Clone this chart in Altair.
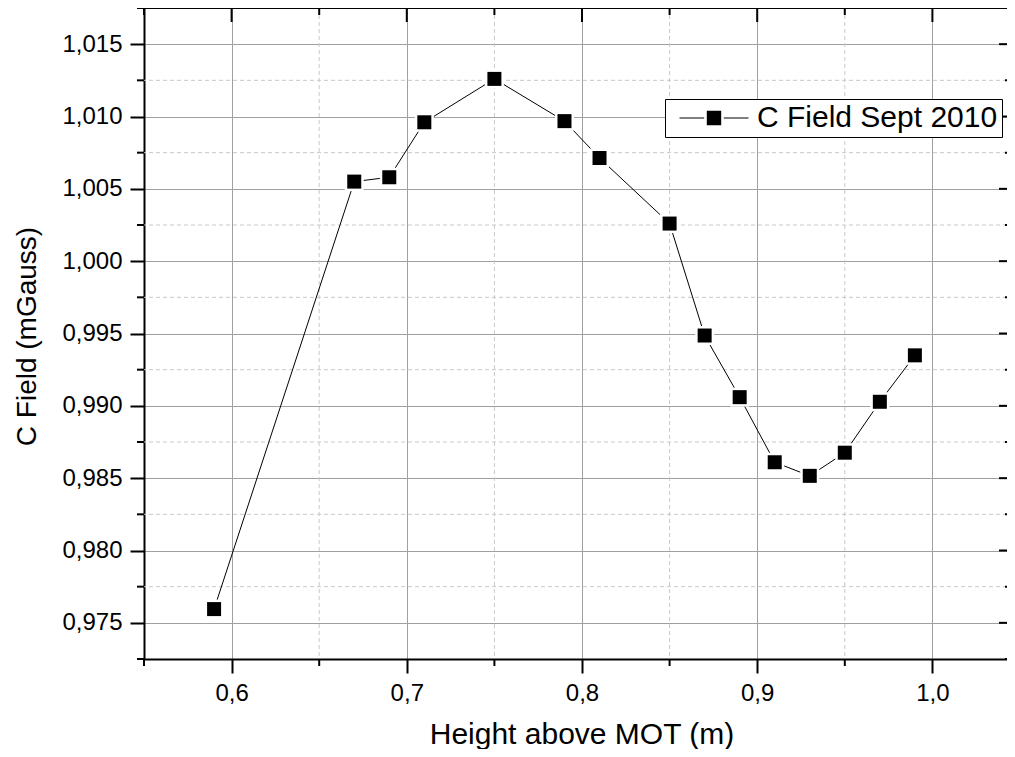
import altair as alt
import pandas as pd

# ---- data ----
heights = [0.59, 0.67, 0.69, 0.71, 0.75, 0.79, 0.81, 0.85, 0.87, 0.89, 0.91, 0.93, 0.95, 0.97, 0.99]
c_field = [0.97595, 1.0055, 1.0058, 1.0096, 1.0126, 1.00968, 1.00713, 1.0026,
           0.99486, 0.9906, 0.9861, 0.98516, 0.98676, 0.99028, 0.99349]
series_name = "C Field Sept 2010"

x_major = [0.6, 0.7, 0.8, 0.9, 1.0]
x_minor = [0.55, 0.65, 0.75, 0.85, 0.95]
y_major = [0.975, 0.980, 0.985, 0.990, 0.995, 1.000, 1.005, 1.010, 1.015]
y_minor = [0.9725, 0.9775, 0.9825, 0.9875, 0.9925, 0.9975, 1.0025, 1.0075, 1.0125, 1.0175]
x_domain = [0.55, 1.04258]
y_domain = [0.9725, 1.0175]

W, H = 863, 651
FONT = "Liberation Sans"

df = pd.DataFrame({"h": heights, "f": c_field, "series": [series_name] * len(heights)})
xmaj = pd.DataFrame({"h": x_major})
xmin = pd.DataFrame({"h": x_minor})
ymaj = pd.DataFrame({"f": y_major})
ymin = pd.DataFrame({"f": y_minor})
xmin_inner = pd.DataFrame({"h": x_minor[1:]})
ymin_inner = pd.DataFrame({"f": y_minor[1:-1]})

xs = alt.Scale(domain=x_domain, nice=False, zero=False)
ys = alt.Scale(domain=y_domain, nice=False, zero=False)

x_axis = alt.Axis(
    values=x_major,
    labelExpr="replace(format(datum.value, '.1f'), '.', ',')",
    tickSize=14, tickWidth=2, tickColor="black",
    domainColor="black", domainWidth=2,
    grid=True, gridColor="#a0a0a0", gridWidth=1,
    labelFont=FONT, labelFontSize=24, labelColor="black", labelPadding=8,
    title="Height above MOT (m)", titleFont=FONT, titleFontSize=30, titleFontWeight="normal",
    titleColor="black", titleX=437.5, titleY=84, titleBaseline="alphabetic", titleAlign="center",
)
y_axis = alt.Axis(
    values=y_major,
    labelExpr="replace(format(datum.value, '.3f'), '.', ',')",
    tickSize=14, tickWidth=2, tickColor="black",
    domainColor="black", domainWidth=2,
    grid=True, gridColor="#a0a0a0", gridWidth=1,
    labelFont=FONT, labelFontSize=24, labelColor="black", labelPadding=8,
    title="C Field (mGauss)", titleFont=FONT, titleFontSize=28, titleFontWeight="normal",
    titleColor="black", titleX=-109, titleY=328, titleBaseline="alphabetic", titleAlign="center",
)

X = lambda: alt.X("h:Q", scale=xs, axis=x_axis)
Y = lambda: alt.Y("f:Q", scale=ys, axis=y_axis)

# minor dashed grid
grid_x_minor = alt.Chart(xmin_inner).mark_rule(color="#c8c8c8", strokeDash=[4, 3], strokeWidth=1).encode(x=X())
grid_y_minor = alt.Chart(ymin_inner).mark_rule(color="#c8c8c8", strokeDash=[4, 3], strokeWidth=1).encode(y=Y())

line = alt.Chart(df).mark_line(color="black", strokeWidth=1).encode(x=X(), y=Y())

halo = alt.Chart(df).mark_square(size=361, color="white", opacity=1, filled=True).encode(x=X(), y=Y())

# legend symbol: line - square - line (filled shapes), scale 10 px per unit (size=400)
LEG_PATH = ("M-3.45,-0.05H-0.98V0.05H-3.45Z "
            "M0.98,-0.05H3.45V0.05H0.98Z "
            "M-0.72,-0.72H0.72V0.72H-0.72Z")

squares = alt.Chart(df).mark_square(size=196, filled=True, opacity=1).encode(
    x=X(), y=Y(),
    color=alt.Color("series:N", scale=alt.Scale(range=["black"]), legend=alt.Legend(
        orient="none", legendX=521, legendY=91, title=None,
        fillColor="white", strokeColor="black", padding=4,
        labelFont=FONT, labelFontSize=30, labelColor="black", labelOffset=28, labelLimit=0,
        symbolType=LEG_PATH, symbolSize=400, symbolFillColor="black", symbolOffset=30,
        symbolStrokeWidth=0, symbolOpacity=1,
    )),
)

TK = dict(color="black", strokeWidth=2)
t_bottom_minor = alt.Chart(xmin).mark_rule(**TK).encode(x=X(), y=alt.value(H), y2=alt.value(H + 7))
t_left_minor = alt.Chart(ymin).mark_rule(**TK).encode(y=Y(), x=alt.value(0), x2=alt.value(-7))
t_top_major = alt.Chart(xmaj).mark_rule(**TK).encode(x=X(), y=alt.value(0), y2=alt.value(14))
t_top_minor = alt.Chart(xmin).mark_rule(**TK).encode(x=X(), y=alt.value(0), y2=alt.value(7))
t_right_major = alt.Chart(ymaj).mark_rule(**TK).encode(y=Y(), x=alt.value(W), x2=alt.value(W - 8))
t_right_minor = alt.Chart(ymin).mark_rule(**TK).encode(y=Y(), x=alt.value(W), x2=alt.value(W - 2))
top_frame = alt.Chart(xmaj).mark_rule(color="black", strokeWidth=2).encode(y=alt.value(0))

chart = alt.layer(
    grid_x_minor, grid_y_minor, line, halo, squares,
    t_bottom_minor, t_left_minor, t_top_major, t_top_minor,
    t_right_major, t_right_minor, top_frame,
).properties(
    width=W, height=H,
    autosize=alt.AutoSizeParams(type="none"),
    padding={"left": 136, "top": 0, "right": 0, "bottom": 90},
).configure_view(strokeWidth=0, stroke="transparent").configure(background="white")

chart.save("out.html", embed_options={"renderer": "svg", "actions": False})
